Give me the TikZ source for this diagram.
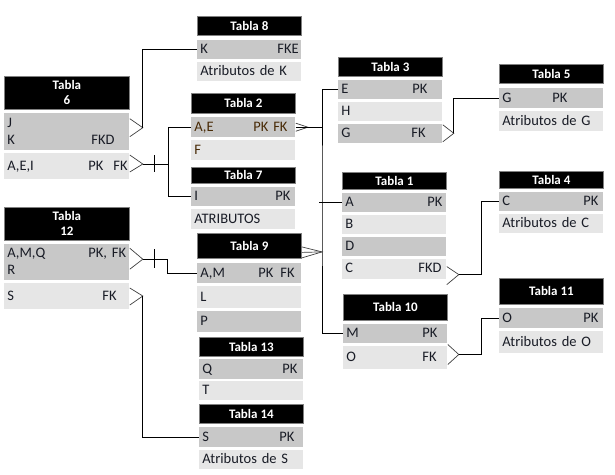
\documentclass[tikz,border=0pt]{standalone}
\usepackage{fontspec}
\setmainfont{Carlito}
\usetikzlibrary{positioning,calc}
\definecolor{oscuro}{RGB}{200,200,200}
\definecolor{claro}{RGB}{230,230,230}
\definecolor{texto}{RGB}{25,28,38}
\definecolor{marron}{RGB}{72,42,6}
\tikzset{
    titulo/.style={fill=black, draw=gray, text=white, font=\bfseries\fontsize{13}{15}\selectfont, minimum width=104pt, minimum height=19pt, inner sep=0pt, align=center, anchor=north west},
    fila/.style={fill=oscuro, text width=98pt, minimum height=19pt, inner xsep=3pt, inner ysep=0pt, text height=11pt, text depth=3pt, font=\fontsize{14.5}{17}\selectfont, text=texto, align=left},
    filaclara/.style={fila, fill=claro},
    ancha/.style={text width=119pt},
}
\newcommand{\clave}[2]{\makebox[#1pt][l]{#2}}

\begin{document}
\begin{tikzpicture}[x=1pt, y=-1pt, line width=0.8pt, pata/.style={draw=black!75, line width=0.7pt}]
  \path[use as bounding box, fill=white] (0,0) rectangle (615,474);

  % Tabla 8
  \node[titulo] (tabla8) at (197,16) {Tabla 8};
  \node[fila, below=4pt of tabla8] (tabla8a) {\clave{77}{K}FKE};
  \node[filaclara, below=2pt of tabla8a] (tabla8b) {Atributos de K};

  % Tabla 6
  \node[titulo, minimum width=125pt, minimum height=33pt] (tabla6) at (4,76) {Tabla\\6};
  \node[fila, ancha, below=3pt of tabla6, minimum height=37pt, text depth=20pt] (tabla6a) {J\\\clave{84}{K}FKD};
  \node[filaclara, ancha, below=2pt of tabla6a, minimum height=26pt] (tabla6b) {\clave{81}{A,E,I}\clave{25}{PK}FK};

  % Tabla 2
  \node[titulo, minimum height=20pt] (tabla2) at (191,93) {Tabla 2};
  \node[fila, text=marron, below=3pt of tabla2, minimum height=20pt] (tabla2a) {\clave{59}{A,E}PK FK};
  \node[filaclara, text=marron, below=2pt of tabla2a, minimum height=20pt] (tabla2b) {F};

  % Tabla 7
  \node[titulo, minimum height=16pt] (tabla7) at (191,167) {Tabla 7};
  \node[fila, below=3pt of tabla7] (tabla7a) {\clave{81}{I}PK};
  \node[filaclara, below=2pt of tabla7a, minimum height=20pt] (tabla7b) {ATRIBUTOS};

  % Tabla 12
  \node[titulo, minimum width=125pt, minimum height=33pt] (tabla12) at (4,207) {Tabla\\12};
  \node[fila, ancha, below=3pt of tabla12, minimum height=36pt, text depth=20pt] (tabla12a) {\clave{81}{A,M,Q}PK, FK\\R};
  \node[filaclara, ancha, below=2pt of tabla12a, minimum height=26pt] (tabla12b) {\clave{95}{S}FK};

  % Tabla 9
  \node[titulo, minimum height=25pt] (tabla9) at (197,233) {Tabla 9};
  \node[fila, below=4pt of tabla9, minimum height=20pt] (tabla9a) {\clave{58}{A,M}\clave{22}{PK}FK};
  \node[filaclara, below=2pt of tabla9a, minimum height=22pt] (tabla9b) {L};
  \node[fila, below=2pt of tabla9b, minimum height=21pt] (tabla9c) {P};

  % Tabla 13
  \node[titulo] (tabla13) at (199,337) {Tabla 13};
  \node[fila, below=2pt of tabla13, minimum height=20pt] (tabla13a) {\clave{80}{Q}PK};
  \node[filaclara, below=1pt of tabla13a] (tabla13b) {T};

  % Tabla 14
  \node[titulo] (tabla14) at (199,404) {Tabla 14};
  \node[fila, below=3pt of tabla14, minimum height=20pt] (tabla14a) {\clave{77}{S}PK};
  \node[filaclara, below=2pt of tabla14a] (tabla14b) {Atributos de S};

  % Tabla 3
  \node[titulo] (tabla3) at (338,57) {Tabla 3};
  \node[fila, below=3pt of tabla3] (tabla3a) {\clave{71}{E}PK};
  \node[filaclara, below=2pt of tabla3a] (tabla3b) {H};
  \node[fila, below=2pt of tabla3b] (tabla3c) {\clave{70}{G}FK};

  % Tabla 5
  \node[titulo] (tabla5) at (499,64) {Tabla 5};
  \node[fila, below=4pt of tabla5, minimum height=20pt] (tabla5a) {\clave{50}{G}PK};
  \node[filaclara, below=2pt of tabla5a, minimum height=20pt] (tabla5b) {Atributos de G};

  % Tabla 1
  \node[titulo, minimum height=17pt] (tabla1) at (342,172) {Tabla 1};
  \node[fila, below=3pt of tabla1] (tabla1a) {\clave{82}{A}PK};
  \node[filaclara, below=2pt of tabla1a] (tabla1b) {B};
  \node[fila, below=2pt of tabla1b] (tabla1c) {D};
  \node[filaclara, below=2pt of tabla1c, minimum height=20pt] (tabla1d) {\clave{73}{C}FKD};

  % Tabla 4
  \node[titulo, minimum height=17pt] (tabla4) at (499,171) {Tabla 4};
  \node[fila, below=3pt of tabla4] (tabla4a) {\clave{81}{C}PK};
  \node[filaclara, below=2pt of tabla4a] (tabla4b) {Atributos de C};

  % Tabla 10
  \node[titulo, minimum height=26pt] (tabla10) at (343,294) {Tabla 10};
  \node[fila, below=3pt of tabla10] (tabla10a) {\clave{76}{M}PK};
  \node[filaclara, below=2pt of tabla10a, minimum height=23pt] (tabla10b) {\clave{76}{O}FK};

  % Tabla 11
  \node[titulo, minimum height=26pt] (tabla11) at (499,278) {Tabla 11};
  \node[fila, below=3pt of tabla11, minimum height=20pt] (tabla11a) {\clave{81}{O}PK};
  \node[filaclara, below=2pt of tabla11a, minimum height=22pt] (tabla11b) {Atributos de O};

  % CLAVES FORANEAS
  \coordinate (bus) at (322,200);

  % Tabla 6 -> Tabla 8
  \coordinate (p6a) at ($(tabla6a.east)+(13,-4)$);
  \draw[pata] ($(tabla6a.east)+(0,-13)$) -- (p6a) -- ($(tabla6a.east)+(0,5)$);
  \draw (p6a) |- (tabla8a.west);

  % Tabla 6 -> Tabla 2, Tabla 7
  \coordinate (p6b) at ($(tabla6b.east)+(13,-2)$);
  \coordinate (q6b) at ($(p6b)+(26,0)$);
  \draw[pata] ($(tabla6b.east)+(0,-11)$) -- (p6b) -- ($(tabla6b.east)+(0,6)$);
  \draw ($(p6b)+(12,-9)$) -- ($(p6b)+(12,8)$);
  \draw (p6b) -- (q6b);
  \draw (tabla2a.west) -| (q6b) |- (tabla7a.west);

  % Tabla 12 -> Tabla 9
  \coordinate (p12a) at ($(tabla12a.east)+(13,-3)$);
  \coordinate (q12a) at ($(p12a)+(25,0)$);
  \draw[pata] ($(tabla12a.east)+(0,-14)$) -- (p12a) -- ($(tabla12a.east)+(0,7)$);
  \draw ($(p12a)+(12,-10)$) -- ($(p12a)+(12,9)$);
  \draw (p12a) -- (q12a) |- (tabla9a.west);

  % Tabla 12 -> Tabla 14
  \coordinate (p12b) at ($(tabla12b.east)+(13,0)$);
  \draw[pata] ($(tabla12b.east)+(0,-8)$) -- (p12b) -- ($(tabla12b.east)+(0,9)$);
  \draw (p12b) |- (tabla14a.west);

  % Tabla 2, Tabla 9 -> Tabla 3, Tabla 1, Tabla 10
  \draw (tabla3a.west) -| (bus) |- (tabla10a.west);
  \coordinate (p2a) at ($(tabla2a.east)+(12,0)$);
  \draw[pata] ($(tabla2a.east)+(0,-4)$) -- (p2a) -- ($(tabla2a.east)+(0,4)$);
  \draw (tabla2a.east) -- (tabla2a.east -| bus);
  \draw (tabla1a.west) -- ($(tabla1a.west -| bus)+(-3,0)$);
  \coordinate (p9) at ($(tabla9.east -| bus)+(0,6)$);
  \draw[pata] ($(tabla9.east)+(0,1)$) -- (p9) -- ($(tabla9.east)+(0,12)$);
  \draw[pata] ($(tabla9.east)+(0,6.5)$) -- (p9);

  % Tabla 3 -> Tabla 5
  \coordinate (p3c) at ($(tabla3c.east)+(11,0)$);
  \draw[pata] ($(tabla3c.east)+(0,-8.5)$) -- (p3c) -- ($(tabla3c.east)+(0,8.5)$);
  \draw (p3c) |- (tabla5a.west);

  % Tabla 1 -> Tabla 4
  \coordinate (p1d) at ($(tabla1d.east)+(12,6)$);
  \coordinate (q1d) at ($(p1d)+(23,0)$);
  \draw[pata] ($(tabla1d.east)+(0,-2)$) -- (p1d) -- ($(tabla1d.east)+(0,16)$);
  \draw (p1d) -- (q1d) |- (tabla4a.west);

  % Tabla 10 -> Tabla 11
  \coordinate (p10b) at ($(tabla10b.east)+(11,-3)$);
  \coordinate (q10b) at ($(p10b)+(23,0)$);
  \draw[pata] ($(tabla10b.east)+(0,-13)$) -- (p10b) -- ($(tabla10b.east)+(0,7)$);
  \draw (p10b) -- (q10b) |- (tabla11a.west);
\end{tikzpicture}
\end{document}
